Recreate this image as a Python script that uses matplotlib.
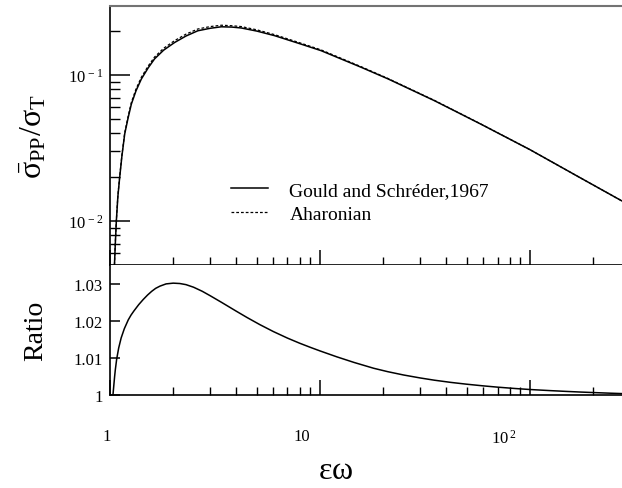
import numpy as np
import matplotlib
matplotlib.use("Agg")
import matplotlib.pyplot as plt
import matplotlib.transforms as mtransforms
from matplotlib.ticker import FixedLocator, NullFormatter, NullLocator

# values
ew_cross = [1.05, 1.06, 1.072, 1.09, 1.112, 1.14, 1.175, 1.22, 1.264, 1.33, 1.41,
            1.52, 1.63, 1.8, 2.03, 2.3, 2.62, 3.0, 3.39, 3.8, 4.22, 5.0, 6.08,
            8.0, 10.1, 15.7, 21.1, 35.0, 57.8, 100.0, 170.0, 277.0]
gould = [0.0050, 0.0070, 0.0100, 0.0147, 0.0199, 0.0280, 0.0395, 0.051, 0.0633,
         0.078, 0.0939, 0.112, 0.129, 0.148, 0.167, 0.185, 0.201, 0.209, 0.214,
         0.213, 0.210, 0.200, 0.186, 0.164, 0.147, 0.113, 0.094, 0.0668, 0.0464,
         0.0308, 0.0201, 0.0136]
aharonian = [0.0050, 0.0071, 0.0101, 0.0149, 0.0202, 0.0285, 0.0402, 0.0522, 0.0650,
             0.0802, 0.0965, 0.1153, 0.1328, 0.1524, 0.1720, 0.1905, 0.2067, 0.2147,
             0.2193, 0.2176, 0.2147, 0.2040, 0.1890, 0.1663, 0.1488, 0.1140, 0.0946,
             0.0671, 0.0465, 0.0308, 0.0201, 0.0136]

ew_ratio = [1.033, 1.045, 1.052, 1.06, 1.076, 1.10, 1.13, 1.17, 1.222, 1.26, 1.30,
            1.37, 1.44, 1.51, 1.58, 1.65, 1.73, 1.85, 2.0, 2.15, 2.3, 2.5, 2.75,
            3.0, 3.4, 4.0, 4.5, 5.17, 6.0, 7.0, 8.0, 9.0, 10.0, 12.0, 14.5, 18.0,
            21.0, 25.0, 30.0, 35.0, 42.0, 50.0, 60.0, 70.0, 85.0, 100.0, 125.0,
            150.0, 175.0, 200.0, 240.0, 274.0]
ratio = [1.0000, 1.0032, 1.0050, 1.0068, 1.0097, 1.0127, 1.0154, 1.0179, 1.0203,
         1.0216, 1.0227, 1.0244, 1.0258, 1.0270, 1.0280, 1.0288, 1.0294, 1.0300,
         1.0302, 1.0301, 1.0298, 1.0291, 1.0280, 1.0268, 1.0250, 1.0226, 1.0209,
         1.0190, 1.01712, 1.01536, 1.01398, 1.01286, 1.0119, 1.01032, 1.0088,
         1.00722, 1.0063, 1.0054, 1.0046, 1.0040, 1.0034, 1.00291, 1.00246,
         1.00212, 1.00175, 1.00148, 1.00118, 1.00096, 1.00079, 1.00066, 1.00049,
         1.00038]

x_major = [1, 10, 100]
x_labels = ["1", "10", r"$\mathregular{10^{\,2}}$"]
x_label_shift = [-3, -18, -26]  # px, labels sit left of their ticks in the original
y_major_top = [0.01, 0.1]
y_labels_top = [r"$\mathregular{10^{\,-2}}$", r"$\mathregular{10^{\,-1}}$"]
y_major_bot = [1.0, 1.01, 1.02, 1.03]
y_labels_bot = ["1", "1.01", "1.02", "1.03"]

plt.rcParams["font.family"] = ["Liberation Serif", "DejaVu Serif"]
plt.rcParams["mathtext.fontset"] = "custom"
plt.rcParams["mathtext.rm"] = "Liberation Serif"
plt.rcParams["mathtext.it"] = "Liberation Serif:italic"
plt.rcParams["mathtext.bf"] = "Liberation Serif:bold"

W, H = 622, 489
fig = plt.figure(figsize=(W / 100, H / 100), dpi=100)
left = 110 / W
ax1 = fig.add_axes([left, 1 - 266 / H, 1 - left, (266 - 7) / H])
ax2 = fig.add_axes([left, 1 - 396 / H, 1 - left, (396 - 266) / H])

ax1.plot(ew_cross, gould, color="black", lw=1.1, label="Gould and Schréder,1967")
ax1.plot(ew_cross, aharonian, color="black", lw=0.9, dashes=(2.2, 1.6), label="Aharonian")
ax2.plot(ew_ratio, ratio, color="black", lw=1.1)

for ax in (ax1, ax2):
    ax.set_xscale("log")
    ax.set_xlim(1, 274)
    ax.spines["right"].set_visible(False)
    ax.spines["left"].set_linewidth(1.2)
    ax.spines["bottom"].set_linewidth(1.2)
    ax.xaxis.set_major_locator(FixedLocator(x_major))
    minors = [m * d for d in (1, 10, 100) for m in range(2, 10)]
    ax.xaxis.set_minor_locator(FixedLocator(minors))
    ax.xaxis.set_minor_formatter(NullFormatter())
    ax.tick_params(axis="x", which="major", direction="in", length=11, width=1.1,
                   top=False, bottom=True)
    ax.tick_params(axis="x", which="minor", direction="in", length=5.5, width=1.0,
                   top=False, bottom=True)

ax1.spines["top"].set_color("0.45")
ax1.spines["top"].set_linewidth(1.5)
ax2.spines["top"].set_visible(False)

ax1.set_yscale("log")
ax1.set_ylim(0.005, 0.297)
ax1.yaxis.set_major_locator(FixedLocator(y_major_top))
ax1.set_yticklabels(y_labels_top)
yminors = [m * d for d in (0.001, 0.01, 0.1) for m in range(2, 10)]
ax1.yaxis.set_minor_locator(FixedLocator(yminors))
ax1.yaxis.set_minor_formatter(NullFormatter())
ax1.tick_params(axis="y", which="major", direction="in", length=14.5, width=1.1,
                labelsize=12, pad=5)
ax1.tick_params(axis="y", which="minor", direction="in", length=7.2, width=1.0)
ax1.set_xticklabels([])

ax2.set_ylim(1.0, 1.0351)
ax2.yaxis.set_major_locator(FixedLocator(y_major_bot))
ax2.yaxis.set_minor_locator(NullLocator())
ax2.set_yticklabels(y_labels_bot)
ax2.tick_params(axis="y", which="major", direction="in", length=7.2, width=1.1,
                labelsize=12, pad=5)
ax2.set_xticklabels(x_labels)
ax2.tick_params(axis="x", which="major", labelsize=12, pad=24)
for lab, dx in zip(ax2.get_xticklabels(), x_label_shift):
    lab.set_transform(lab.get_transform() +
                      mtransforms.ScaledTranslation(dx / 100, 0, fig.dpi_scale_trans))

ax1.set_ylabel(r"$\bar{\mathrm{\sigma}}_{\mathrm{PP}}/\mathrm{\sigma}_{\mathrm{T}}$",
               fontsize=23)
ax1.yaxis.set_label_coords(-0.12, 0.5)
ax2.set_ylabel("Ratio", fontsize=20)
ax2.yaxis.set_label_coords(-0.12, 0.5)
ax2.set_xlabel(r"$\mathrm{\varepsilon\omega}$", fontsize=23)
ax2.xaxis.set_label_coords(0.44, -0.47)

ax1.legend(loc="upper left", bbox_to_anchor=(0.21, 0.375), frameon=False,
           fontsize=14, handlelength=1.9, handletextpad=1.1, labelspacing=0.33,
           borderpad=0.2)

fig.savefig("out.png", dpi=100)
